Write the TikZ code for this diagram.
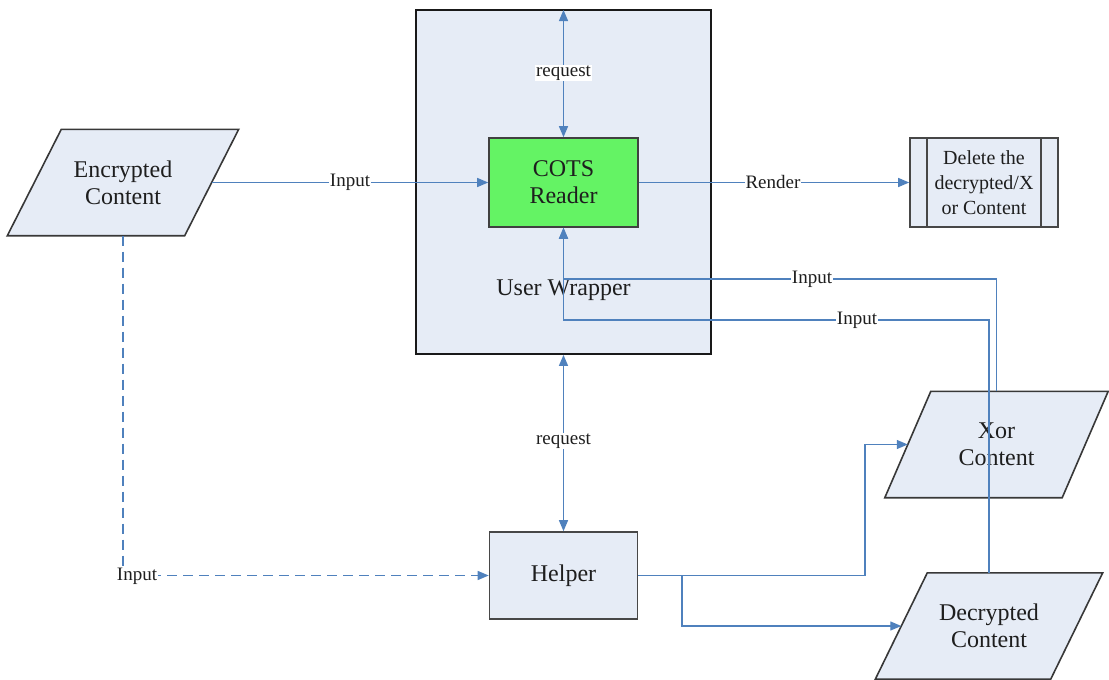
\documentclass[tikz,border=0pt]{standalone}
\usepackage{fontspec}
\setmainfont{Liberation Serif}
\usetikzlibrary{arrows.meta,backgrounds}
\definecolor{boxfill}{RGB}{230,236,246}
\definecolor{readergreen}{RGB}{100,243,100}
\definecolor{flowblue}{RGB}{79,129,189}
\definecolor{inktext}{RGB}{30,30,30}
\tikzset{
  main/.style={font=\fontsize{24}{27}\selectfont, text=inktext, align=center},
  box/.style={main, draw=black!72, line width=1.6pt, fill=boxfill, inner sep=0pt},
  % text holder of a data object; its slanted frame is drawn on the background layer
  datahold/.style={main, inner sep=0pt, minimum width=177pt, minimum height=106pt},
  dataframe/.style={draw=black!78, line width=1.6pt, fill=boxfill},
  flow/.style={draw=flowblue, line width=1.3pt},
  tip/.tip={Triangle[length=11pt,width=9pt]},
  arr/.style={flow, -tip},
  biarr/.style={flow, tip-tip},
  lbl/.style={font=\fontsize{19}{22}\selectfont, fill=white, inner sep=1pt, text=inktext},
}
\begin{document}
\begin{tikzpicture}[x=1pt,y=-1pt]
\useasboundingbox (0,0) rectangle (1109,680);

% wrapper around the reader
\node[box, draw=black!90, line width=1.8pt, minimum width=295pt, minimum height=344pt] (wrap) at (563.5,182) {};
\node[main, anchor=base] (wraplbl) at (563.5,295) {User Wrapper};
\node[box, fill=readergreen, draw=black!75, minimum width=149pt, minimum height=89pt] (cots) at (563.5,182.5) {COTS\\Reader};

% data objects
\node[datahold] (enc) at (123,182.5) {Encrypted\\Content};
\node[datahold] (xor) at (996.5,444.5) {Xor\\Content};
\node[datahold, minimum width=175pt] (dec) at (989,626) {Decrypted\\Content};
\begin{scope}[on background layer]
  \draw[dataframe] ([xshift=27pt]enc.north west) -- ([xshift=27pt]enc.north east)
    -- ([xshift=-27pt]enc.south east) -- ([xshift=-27pt]enc.south west) -- cycle;
  \draw[dataframe] ([xshift=23pt]xor.north west) -- ([xshift=23pt]xor.north east)
    -- ([xshift=-23pt]xor.south east) -- ([xshift=-23pt]xor.south west) -- cycle;
  \draw[dataframe] ([xshift=26pt]dec.north west) -- ([xshift=26pt]dec.north east)
    -- ([xshift=-26pt]dec.south east) -- ([xshift=-26pt]dec.south west) -- cycle;
\end{scope}

% processes
\node[box, minimum width=148pt, minimum height=87pt] (helper) at (563.5,575.5) {Helper};
\node[box, font=\fontsize{20}{25}\selectfont, minimum width=148pt, minimum height=89pt] (del) at (984,182.5) {Delete the\\decrypted/X\\or Content};
\draw[black!72, line width=1.6pt] ([xshift=18pt]del.north west) -- ([xshift=18pt]del.south west);
\draw[black!72, line width=1.6pt] ([xshift=-18pt]del.north east) -- ([xshift=-18pt]del.south east);

% junction points
\coordinate (top) at (563.5,10);
\coordinate (xin) at (563.5,279);
\coordinate (din) at (563.5,320);
\coordinate (split) at (682,575.5);
\coordinate (bend) at (865,575.5);

% connectors
\draw[biarr] (top) -- (cots.north);
\draw[biarr] (wrap.south) -- (helper.north);
\draw[arr] (enc.east) -- (cots.west);
\draw[arr] (cots.east) -- (del.west);
\draw[arr] (xor.north) |- (xin) -- (cots.south);
\draw[arr] (dec.north) |- (din) -- (cots.south);
\draw[arr, dash pattern=on 10pt off 6pt] (enc.south) |- (helper.west);
\draw[arr] (helper.east) -- (bend) |- (xor.west);
\draw[arr] (split) |- (dec.west);

% connector labels
\node[lbl] (l1) at (563.5,73) {request};
\node[lbl] (l2) at (350,182) {Input};
\node[lbl] (l3) at (773,182) {Render};
\node[lbl] (l4) at (812,279) {Input};
\node[lbl] (l5) at (857,320) {Input};
\node[lbl] (l6) at (563.5,441) {request};
\node[lbl] (l7) at (137,576) {Input};
\end{tikzpicture}
\end{document}
